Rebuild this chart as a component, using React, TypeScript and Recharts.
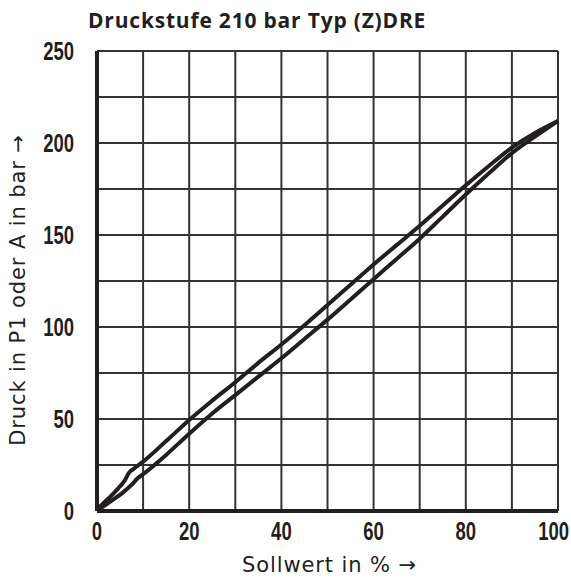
import {LineChart, Line, XAxis, YAxis, CartesianGrid, Label} from 'recharts'

// Sollwert in %, Druck in bar (obere Kurve = steigend, untere Kurve)
const upperX = [0, 1.5, 3, 4.5, 6, 7, 8, 10, 15, 20, 25, 30, 35, 40, 45, 50, 55, 60, 65, 70, 75, 80, 85, 90, 95, 100]
const upperY = [1, 4.5, 8, 12, 16.5, 21, 23, 26.8, 38, 49.5, 60, 70, 80.5, 90.5, 101, 112, 123, 134, 144.5, 155, 166, 177, 187.5, 197.5, 205.5, 212]

const lowerX = [0, 2.8, 5.6, 7.8, 8.7, 10, 15, 20, 25, 30, 35, 40, 45, 50, 55, 60, 65, 70, 75, 80, 85, 90, 95, 100]
const lowerY = [0, 5, 10, 15, 17.5, 20, 30.5, 42, 53, 63, 73, 83, 93.5, 104, 115, 126, 137, 148, 160, 172, 183.5, 194.5, 203.5, 212]

const xTicks = [0, 10, 20, 30, 40, 50, 60, 70, 80, 90, 100]
const yTicks = [0, 25, 50, 75, 100, 125, 150, 175, 200, 225, 250]

const upperData = upperX.map((x, i) => ({x, y: upperY[i]}))
const lowerData = lowerX.map((x, i) => ({x, y: lowerY[i]}))

const ink = '#231f20'
const labelFont = '"DejaVu Sans", "Open Sans", sans-serif'

// schmale fette Ziffern wie im Original
const XTick = ({x, y, payload}: any) => {
    if (payload.value % 20 !== 0) return null
    const last = payload.value === 100
    return (
        <g transform={`translate(${last ? x + 11 : x},${y + 21}) scale(0.74,1)`}>
            <text
                textAnchor={last ? 'end' : 'middle'}
                fontFamily='"Liberation Sans", Arial, sans-serif'
                fontWeight={700}
                fontSize={25}
                fill={ink}
            >
                {payload.value}
            </text>
        </g>
    )
}

const YTick = ({x, y, payload}: any) => {
    if (payload.value % 50 !== 0) return null
    return (
        <g transform={`translate(${x - 15},${y + 9}) scale(0.74,1)`}>
            <text
                textAnchor="end"
                fontFamily='"Liberation Sans", Arial, sans-serif'
                fontWeight={700}
                fontSize={25}
                fill={ink}
            >
                {payload.value}
            </text>
        </g>
    )
}

const App = () => {
    return (
        <div style={{position: 'absolute', left: 0, top: 0, width: 571, height: 581, background: '#fff'}}>
            <div
                style={{
                    position: 'absolute',
                    left: 88,
                    top: 6,
                    fontFamily: '"Open Sans", "Noto Sans", sans-serif',
                    fontWeight: 700,
                    fontSize: 21,
                    letterSpacing: 0.8,
                    color: ink,
                    whiteSpace: 'nowrap',
                }}
            >
                Druckstufe 210 bar Typ (Z)DRE
            </div>
            <LineChart width={571} height={581} margin={{top: 51, right: 13, bottom: 30, left: 37}}>
                <CartesianGrid stroke="#333" strokeWidth={2} />
                <XAxis
                    type="number"
                    dataKey="x"
                    domain={[0, 100]}
                    ticks={xTicks}
                    interval={0}
                    tickLine={false}
                    tick={<XTick />}
                    axisLine={{stroke: ink, strokeWidth: 4}}
                    height={40}
                    allowDuplicatedCategory={false}
                >
                    <Label
                        content={({viewBox}: any) => (
                            <text
                                x={viewBox.x + viewBox.width / 2 + 2}
                                y={572}
                                textAnchor="middle"
                                fontFamily={labelFont}
                                fontSize={21}
                                letterSpacing={0.9}
                                fill={ink}
                            >
                                Sollwert in % →
                            </text>
                        )}
                    />
                </XAxis>
                <YAxis
                    type="number"
                    domain={[0, 250]}
                    ticks={yTicks}
                    interval={0}
                    tickLine={false}
                    tick={<YTick />}
                    axisLine={{stroke: ink, strokeWidth: 4}}
                    width={60}
                >
                    <Label
                        content={() => (
                            <text
                                x={0}
                                y={0}
                                transform="translate(25,290) rotate(-90)"
                                textAnchor="middle"
                                fontFamily={labelFont}
                                fontSize={21}
                                letterSpacing={0.9}
                                fill={ink}
                            >
                                Druck in P1 oder A in bar →
                            </text>
                        )}
                    />
                </YAxis>
                <Line
                    data={upperData}
                    dataKey="y"
                    type="monotone"
                    stroke={ink}
                    strokeWidth={4}
                    dot={false}
                    isAnimationActive={false}
                />
                <Line
                    data={lowerData}
                    dataKey="y"
                    type="monotone"
                    stroke={ink}
                    strokeWidth={4}
                    dot={false}
                    isAnimationActive={false}
                />
            </LineChart>
        </div>
    )
}

export default App
